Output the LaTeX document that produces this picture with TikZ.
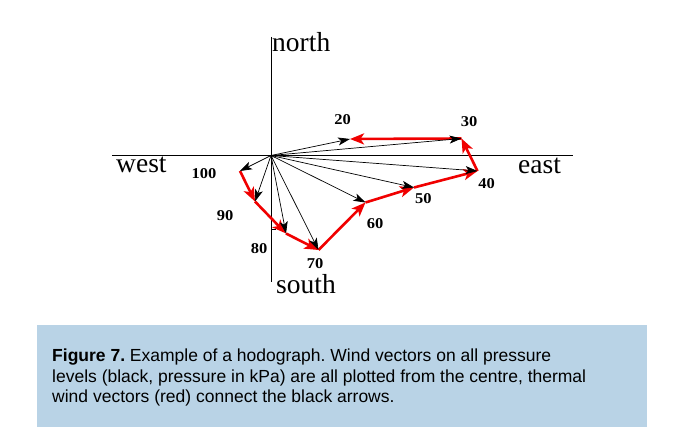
\documentclass[tikz,border=0pt]{standalone}
\usepackage{fontspec}
\setmainfont{Liberation Serif}
\newfontfamily\capfont{Liberation Sans}
\usetikzlibrary{arrows.meta}
\definecolor{capblue}{RGB}{185,211,230}
\definecolor{thermred}{RGB}{240,0,0}
\frenchspacing
\tikzset{
  wind/.style={draw=black, line width=0.7pt, -{Stealth[length=12pt,width=8pt,inset=3pt]}},
  thermal/.style={draw=thermred, line width=2.6pt, -{Stealth[length=14pt,width=11pt,inset=3.5pt]}},
  axis/.style={draw=black, line width=0.8pt},
  compass/.style={inner sep=0pt, font=\fontsize{27.5}{27.5}\selectfont},
  level/.style={inner sep=0pt, font=\fontsize{15}{15}\selectfont\bfseries},
}
\newcommand{\lvl}[1]{\scalebox{1.1}[1]{#1}}
\begin{document}
\begin{tikzpicture}[x=1pt,y=-1pt]
\useasboundingbox (0,0) rectangle (681,443);
% caption box
\fill[capblue] (37,325) rectangle (647,427);
\node[anchor=north west, inner sep=0pt, align=left, font=\capfont\fontsize{17.5}{20.7}\selectfont] (cap) at (52,348.5)
 {\textbf{Figure 7.} Example of a hodograph. Wind vectors on all pressure\\
 levels (black, pressure in kPa) are all plotted from the centre, thermal\\
 wind vectors (red) connect the black arrows.};
% axes
\coordinate (o) at (271,155.5);
\coordinate (ntop) at (271,37);
\coordinate (sbot) at (271,282);
\coordinate (wend) at (112,155.5);
\coordinate (eend) at (573,155.5);
\coordinate (tickA) at (271,229.5);
\coordinate (tickB) at (276,229.5);
\draw[axis] (ntop) -- (sbot);
\draw[axis] (wend) -- (eend);
\draw[axis] (tickA) -- (tickB);
% compass labels
\node[compass, anchor=base west] (north) at (272,52) {north};
\node[compass, anchor=base west] (south) at (276,294) {south};
\node[compass, anchor=base west] (west) at (116,173) {west};
\node[compass, anchor=base west] (east) at (518,173.5) {east};
% wind vector tips
\coordinate (p20) at (350,139);
\coordinate (p30) at (461.5,138.5);
\coordinate (p40) at (477.5,171);
\coordinate (p50) at (414,187.5);
\coordinate (p60) at (365.5,202.5);
\coordinate (p70) at (318.5,250);
\coordinate (p80) at (286,233.5);
\coordinate (p90) at (255,201.5);
\coordinate (p100) at (240,171);
% thermal wind vectors
\draw[thermal] (p100) -- (p90);
\draw[thermal] (p90) -- (p80);
\draw[thermal] (p80) -- (p70);
\draw[thermal] (p70) -- (p60);
\draw[thermal] (p60) -- (p50);
\draw[thermal] (p50) -- (p40);
\draw[thermal] (p40) -- (p30);
\draw[thermal] (p30) -- (p20);
% wind vectors
\foreach \p in {20,30,40,50,60,70,80,90,100} \draw[wind] (o) -- (p\p);
% level labels
\node[level] (l20) at (342.7,119.3) {\lvl{20}};
\node[level] (l30) at (469,121.7) {\lvl{30}};
\node[level] (l40) at (486.7,184) {\lvl{40}};
\node[level] (l50) at (423.3,199) {\lvl{50}};
\node[level] (l60) at (375,224) {\lvl{60}};
\node[level] (l70) at (315,263.3) {\lvl{70}};
\node[level] (l80) at (259,248.3) {\lvl{80}};
\node[level] (l90) at (225,215.7) {\lvl{90}};
\node[level] (l100) at (204,174) {\lvl{100}};
\end{tikzpicture}
\end{document}
